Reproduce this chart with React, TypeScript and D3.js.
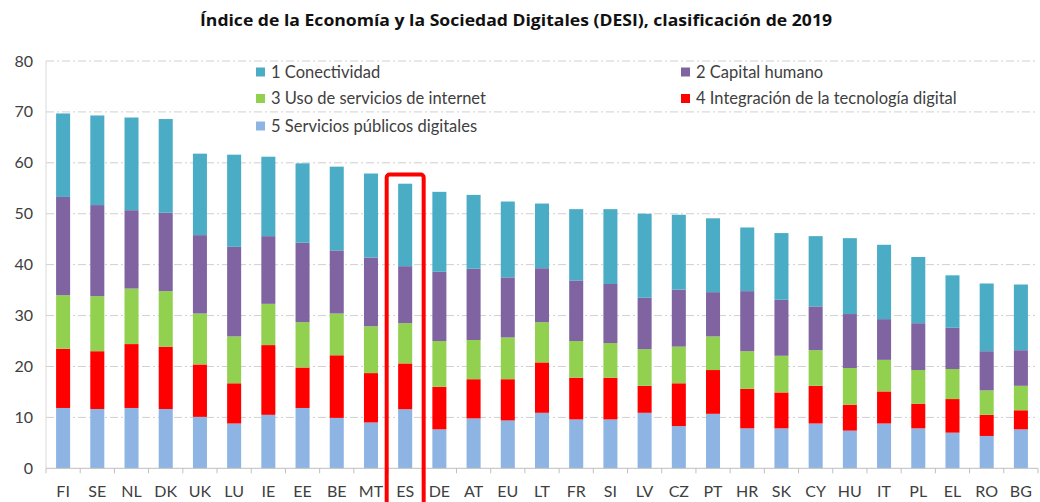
import React from "react";
import * as d3 from "d3";

const countries = ["FI","SE","NL","DK","UK","LU","IE","EE","BE","MT","ES","DE","AT","EU","LT","FR","SI","LV","CZ","PT","HR","SK","CY","HU","IT","PL","EL","RO","BG"];

const serviciosPublicos = [11.85,11.65,11.85,11.65,10.1,8.8,10.5,11.85,9.9,9.0,11.6,7.65,9.8,9.4,10.9,9.6,9.6,10.9,8.3,10.7,7.85,7.85,8.8,7.4,8.8,7.85,7.0,6.35,7.65];
const integracion = [11.65,11.35,12.55,12.25,10.3,7.9,13.7,7.95,12.3,9.7,9.0,8.35,7.7,8.1,9.9,8.2,8.2,5.3,8.4,8.6,7.75,7.05,7.4,5.1,6.3,4.85,6.6,4.15,3.75];
const usoInternet = [10.5,10.8,10.9,10.9,10.0,9.2,8.1,8.9,8.2,9.2,7.9,9.0,7.7,8.2,7.9,7.2,6.8,7.2,7.2,6.6,7.4,7.2,7.0,7.2,6.2,6.6,5.9,4.8,4.8];
const capitalHumano = [19.3,17.9,15.4,15.4,15.4,17.6,13.3,15.6,12.4,13.5,11.2,13.6,14.0,11.8,10.6,11.9,11.6,10.1,11.2,8.7,11.8,11.0,8.6,10.6,8.0,9.2,8.1,7.7,7.0];
const conectividad = [16.4,17.6,18.2,18.4,16.0,18.1,15.6,15.6,16.45,16.5,16.2,15.7,14.5,14.9,12.7,14.0,14.7,16.5,14.7,14.5,12.5,13.1,13.8,14.9,14.6,13.0,10.3,13.3,12.9];

const seriesNames = ["1 Conectividad","2 Capital humano","3 Uso de servicios de internet","4 Integración de la tecnología digital","5 Servicios públicos digitales"];
const seriesColors = ["#4BACC6","#8064A2","#92D050","#FF0000","#8DB4E2"];
const yTicks = [0,10,20,30,40,50,60,70,80];
const title = "Índice de la Economía y la Sociedad Digitales (DESI), clasificación de 2019";
const highlight = "ES";

const W = 1040, H = 502;
const left = 46, right = 1038, top = 61, bottom = 468.3;

export default function App() {
  const x = d3.scaleBand<string>().domain(countries).range([left, right]).padding(0);
  const y = d3.scaleLinear().domain([0, 80]).range([bottom, top]);
  const bw = x.bandwidth() * 0.41;

  const stackVals = [serviciosPublicos, integracion, usoInternet, capitalHumano, conectividad];
  const stackColors = [seriesColors[4], seriesColors[3], seriesColors[2], seriesColors[1], seriesColors[0]];
  const rows = countries.map((c, i) => {
    const r: any = { c };
    stackVals.forEach((s, k) => (r["k" + k] = s[i]));
    return r;
  });
  const stack = d3.stack<any>().keys(stackVals.map((_, k) => "k" + k))(rows);

  const font = "Lato, 'Open Sans', sans-serif";
  const font2 = "'Open Sans', Lato, sans-serif";
  const txt = "#404040";

  const legendItems = [
    { name: seriesNames[0], color: seriesColors[0], lx: 256, ly: 72 },
    { name: seriesNames[2], color: seriesColors[2], lx: 256, ly: 98.5 },
    { name: seriesNames[4], color: seriesColors[4], lx: 256, ly: 126 },
    { name: seriesNames[1], color: seriesColors[1], lx: 681, ly: 72 },
    { name: seriesNames[3], color: seriesColors[3], lx: 681, ly: 98.5 },
  ];

  const hx = (x(highlight) as number) + x.bandwidth() / 2;

  return (
    <div style={{ position: "absolute", left: 0, top: 0 }}>
      <svg width={W} height={H} style={{ display: "block", background: "#fff" }}>
        <text x={516} y={26} textAnchor="middle" fontFamily={font2} fontWeight="bold" fontSize={16.5} fill="#111" textLength={632} lengthAdjust="spacingAndGlyphs">{title}</text>
        {yTicks.map(t => (
          <g key={t}>
            {t > 0 && (
              <line x1={left} x2={right} y1={y(t)} y2={y(t)} stroke="#d0d0d0" strokeWidth={1} strokeDasharray="8 3 2 3" />
            )}
            <text x={33} y={y(t) + 5.5} textAnchor="end" fontFamily={font} fontSize={16} fill={txt}>{t}</text>
          </g>
        ))}
        <line x1={left} x2={left} y1={top} y2={bottom} stroke="#d9d9d9" strokeWidth={1} />
        {stack.map((layer, k) => (
          <g key={k} fill={stackColors[k]}>
            {layer.map((d, i) => (
              <rect key={i}
                x={(x(countries[i]) as number) + (x.bandwidth() - bw) / 2}
                y={y(d[1])}
                width={bw}
                height={y(d[0]) - y(d[1])} />
            ))}
          </g>
        ))}
        <line x1={left} x2={right} y1={bottom} y2={bottom} stroke="#bfbfbf" strokeWidth={1} />
        {countries.map((c, i) => (
          <line key={"t" + i} x1={(x(c) as number)} x2={(x(c) as number)} y1={bottom} y2={bottom + 5} stroke="#bfbfbf" />
        ))}
        <line x1={right} x2={right} y1={bottom} y2={bottom + 5} stroke="#bfbfbf" />
        {countries.map(c => (
          <text key={"l" + c} x={(x(c) as number) + x.bandwidth() / 2} y={497} textAnchor="middle" fontFamily={font} fontSize={16} fill={txt}>{c}</text>
        ))}
        <rect x={hx - 18.5} y={174.5} width={37} height={340} rx={3} fill="none" stroke="#FF0000" strokeWidth={4} />
        {legendItems.map(l => (
          <g key={l.name}>
            <rect x={l.lx} y={l.ly - 4.5} width={9} height={9} fill={l.color} />
            <text x={l.lx + 15} y={l.ly + 5.5} fontFamily={font} fontSize={16.5} fill={txt}>{l.name}</text>
          </g>
        ))}
      </svg>
    </div>
  );
}
